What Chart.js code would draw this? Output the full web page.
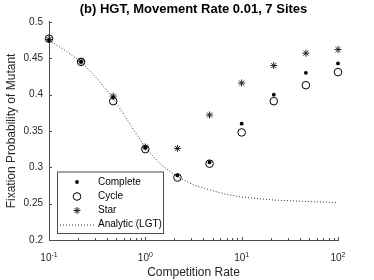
<!DOCTYPE html>
<html>
<head>
<meta charset="utf-8">
<script src="https://cdn.jsdelivr.net/npm/chart.js@4.4.1/dist/chart.umd.min.js"></script>
<style>
  body { margin: 0; background: #fff; }
  #wrap { width: 374px; height: 280px; }
</style>
</head>
<body>
<div id="wrap"><canvas id="myChart" width="374" height="280"></canvas></div>
<script>
// competition rates (log spaced, 3 per decade)
const rates = [0.1, 0.2154, 0.4642, 1, 2.154, 4.642, 10, 21.54, 46.42, 100];
const complete = [0.475, 0.445, 0.396, 0.327, 0.289, 0.307, 0.360, 0.400, 0.430, 0.443];
const cycle = [0.477, 0.445, 0.391, 0.325, 0.286, 0.305, 0.348, 0.391, 0.413, 0.431];
const star = [0.476, 0.446, 0.398, 0.328, 0.326, 0.372, 0.416, 0.440, 0.457, 0.462];

// analytic (LGT) curve
const lgtRates = [0.1, 0.1468, 0.2154, 0.3162, 0.4642, 0.6813, 1, 1.468, 2.154, 3.162, 4.642, 6.813, 10, 21.54, 46.42, 100];
const lgtValues = [0.475, 0.461, 0.445, 0.422, 0.395, 0.361, 0.327, 0.303, 0.287, 0.2757, 0.269, 0.263, 0.259, 0.255, 0.253, 0.2515];

const yTicks = [0.2, 0.25, 0.3, 0.35, 0.4, 0.45, 0.5];
const xDecades = [0.1, 1, 10, 100];
const xExponents = ["-1", "0", "1", "2"];

const FONT = "'Liberation Sans', Arial, Helvetica, sans-serif";
const AXIS = "#4d4d4d";
const TEXT = "#262626";

const pts = (xs, ys) => xs.map((x, i) => ({ x: x, y: ys[i] }));

// inward ticks, superscript x labels and the boxed legend
const extras = {
  id: "extras",
  afterDraw(chart) {
    const ctx = chart.ctx;
    const xs = chart.scales.x;
    const ys = chart.scales.y;
    const area = chart.chartArea;
    ctx.save();
    ctx.strokeStyle = AXIS;
    ctx.lineWidth = 1;

    // y ticks
    yTicks.forEach((v) => {
      const py = Math.round(ys.getPixelForValue(v)) + 0.5;
      ctx.beginPath();
      ctx.moveTo(area.left, py);
      ctx.lineTo(area.left + 3, py);
      ctx.stroke();
    });

    // x ticks, major + minor
    for (let d = 0; d < 3; d++) {
      for (let m = 1; m < 10; m++) {
        const v = xDecades[d] * m;
        const px = Math.round(xs.getPixelForValue(v)) + 0.5;
        const len = m === 1 ? 3 : 2;
        ctx.beginPath();
        ctx.moveTo(px, area.bottom);
        ctx.lineTo(px, area.bottom - len);
        ctx.stroke();
      }
    }
    const pl = Math.round(xs.getPixelForValue(100)) + 0.5;
    ctx.beginPath();
    ctx.moveTo(pl, area.bottom);
    ctx.lineTo(pl, area.bottom - 3);
    ctx.stroke();

    // x labels 10^n
    ctx.fillStyle = TEXT;
    ctx.textBaseline = "alphabetic";
    ctx.textAlign = "left";
    xDecades.forEach((v, i) => {
      const px = xs.getPixelForValue(v);
      ctx.font = "10px " + FONT;
      const wb = ctx.measureText("10").width;
      ctx.font = "7px " + FONT;
      const we = ctx.measureText(xExponents[i]).width;
      const x0 = px - (wb + we) / 2;
      ctx.font = "10px " + FONT;
      ctx.fillText("10", x0, area.bottom + 21);
      ctx.font = "7px " + FONT;
      ctx.fillText(xExponents[i], x0 + wb, area.bottom + 16.5);
    });

    // legend box
    const lx = 57, ly = 171.5, lw = 106, lh = 61.5;
    ctx.fillStyle = "#fff";
    ctx.fillRect(lx, ly, lw, lh);
    ctx.strokeStyle = AXIS;
    ctx.strokeRect(lx + 0.5, ly + 0.5, lw, lh);

    const rows = [182, 196.5, 210.5, 224.5];
    const mx = 77;
    chart.data.datasets.forEach((ds, i) => {
      const ry = rows[i];
      ctx.strokeStyle = "#000";
      ctx.fillStyle = "#000";
      ctx.lineWidth = 1;
      if (i === 0) {
        ctx.beginPath();
        ctx.arc(mx, ry, 1.9, 0, Math.PI * 2);
        ctx.fill();
      } else if (i === 1) {
        ctx.beginPath();
        ctx.arc(mx, ry, 3.8, 0, Math.PI * 2);
        ctx.stroke();
      } else if (i === 2) {
        ctx.strokeStyle = "#222";
        const r = 3.5, q = r * Math.SQRT1_2;
        ctx.beginPath();
        ctx.moveTo(mx - r, ry); ctx.lineTo(mx + r, ry);
        ctx.moveTo(mx, ry - r); ctx.lineTo(mx, ry + r);
        ctx.moveTo(mx - q, ry - q); ctx.lineTo(mx + q, ry + q);
        ctx.moveTo(mx - q, ry + q); ctx.lineTo(mx + q, ry - q);
        ctx.stroke();
      } else {
        ctx.strokeStyle = "#333";
        ctx.setLineDash([1, 2]);
        ctx.beginPath();
        ctx.moveTo(60, ry + 0.5);
        ctx.lineTo(96, ry + 0.5);
        ctx.stroke();
        ctx.setLineDash([]);
      }
      ctx.fillStyle = "#000";
      ctx.font = "10px " + FONT;
      ctx.textBaseline = "middle";
      ctx.fillText(ds.label, 98, ry);
    });
    ctx.restore();
  }
};

const config = {
  type: "scatter",
  data: {
    datasets: [
      {
        label: "Complete",
        data: pts(rates, complete),
        pointStyle: "circle",
        pointRadius: 1.9,
        backgroundColor: "#000",
        borderColor: "#000",
        borderWidth: 0,
        clip: false,
      },
      {
        label: "Cycle",
        data: pts(rates, cycle),
        pointStyle: "circle",
        pointRadius: 3.8,
        backgroundColor: "rgba(0,0,0,0)",
        borderColor: "#000",
        borderWidth: 1,
        clip: false,
      },
      {
        label: "Star",
        data: pts(rates, star),
        pointStyle: "star",
        pointRadius: 3.5,
        backgroundColor: "#222",
        borderColor: "#222",
        borderWidth: 1,
        clip: false,
      },
      {
        label: "Analytic (LGT)",
        type: "line",
        data: pts(lgtRates, lgtValues),
        showLine: true,
        pointRadius: 0,
        borderColor: "#333",
        borderWidth: 1,
        borderDash: [1, 2],
        tension: 0,
        fill: false,
        clip: false,
      },
    ],
  },
  options: {
    responsive: false,
    animation: false,
    events: [],
    layout: { padding: { left: 0, right: 36, top: 0, bottom: 0 } },
    plugins: {
      legend: { display: false },
      tooltip: { enabled: false },
      title: {
        display: true,
        fullSize: false,
        text: "(b) HGT, Movement Rate 0.01, 7 Sites",
        color: "#000",
        font: { family: FONT, size: 13, weight: "bold", lineHeight: 1.15 },
        padding: { top: 2, bottom: 5 },
      },
    },
    scales: {
      x: {
        type: "logarithmic",
        min: 0.1,
        max: 100,
        grid: { display: true, drawOnChartArea: false, drawTicks: false },
        border: { display: true, color: AXIS, width: 1 },
        ticks: { display: false },
        title: {
          display: true,
          text: "Competition Rate",
          color: TEXT,
          font: { family: FONT, size: 12, lineHeight: 1.2 },
          padding: { top: 0, bottom: 0 },
        },
        afterFit: (s) => { s.height = 40; },
      },
      y: {
        min: 0.2,
        max: 0.5,
        afterBuildTicks: (s) => { s.ticks = yTicks.map((v) => ({ value: v })); },
        grid: { display: true, drawOnChartArea: false, drawTicks: false },
        border: { display: true, color: AXIS, width: 1 },
        ticks: {
          color: TEXT,
          padding: 6,
          font: { family: FONT, size: 10 },
          callback: (v) => String(+v.toFixed(2)),
        },
        title: {
          display: true,
          text: "Fixation Probability of Mutant",
          color: TEXT,
          font: { family: FONT, size: 12, lineHeight: 1.2 },
          padding: { top: 4, bottom: 0 },
        },
        afterFit: (s) => { s.width = 49; },
      },
    },
  },
  plugins: [extras],
};

const myChart = new Chart(document.getElementById("myChart"), config);
</script>
</body>
</html>
